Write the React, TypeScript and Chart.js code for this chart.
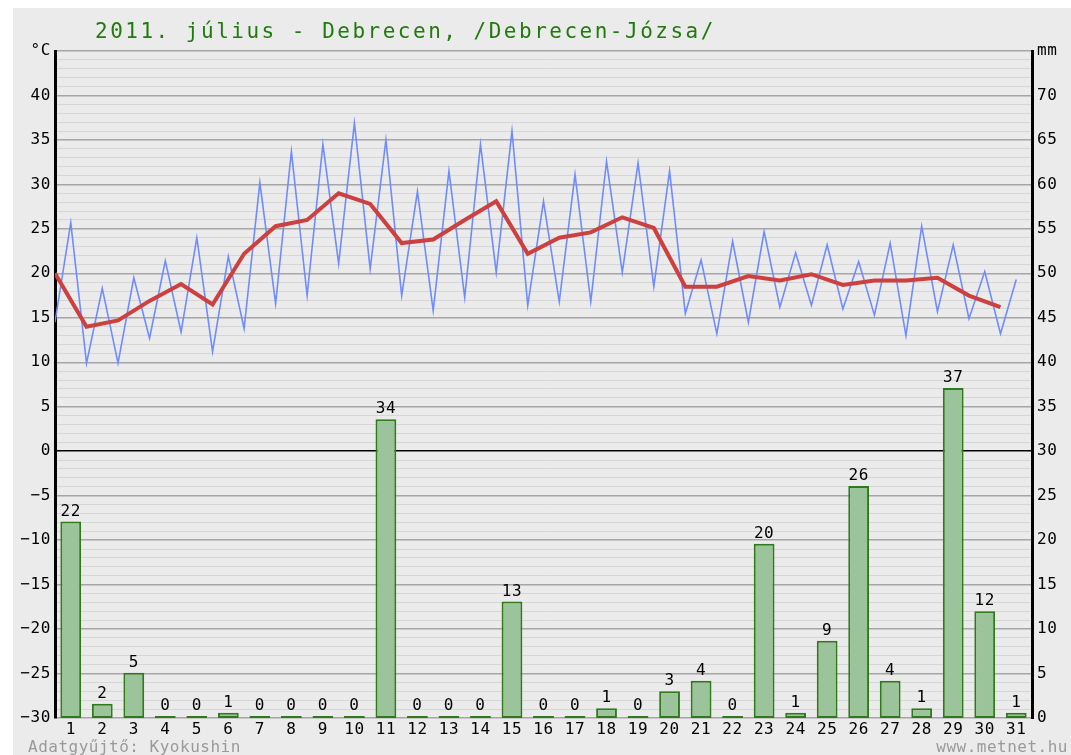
import React, { useEffect, useRef } from "react";
import { Chart, registerables } from "chart.js";

Chart.register(...registerables);

const title = "2011. július - Debrecen, /Debrecen-Józsa/";
const footerLeft = "Adatgyűjtő: Kyokushin";
const footerRight = "www.metnet.hu";

const days = Array.from({ length: 31 }, (_, i) => i + 1);
const tMin = [14.5, 9.9, 9.9, 12.7, 13.4, 11.2, 13.8, 16.6, 17.5, 21.1, 20.5, 17.5, 15.8, 17.3, 20.1, 16.4, 16.8, 16.8, 20.1, 18.5, 15.5, 13.2, 14.5, 16.2, 16.4, 16.0, 15.3, 13.0, 15.7, 14.9, 13.2];
const tMax = [25.7, 18.3, 19.5, 21.4, 24.0, 21.9, 30.2, 33.7, 34.5, 36.9, 35.0, 29.2, 31.5, 34.5, 36.0, 28.1, 31.1, 32.6, 32.4, 31.5, 21.5, 23.6, 24.7, 22.3, 23.2, 21.3, 23.4, 25.3, 23.2, 20.2, 19.3];
const tMean = [20.0, 14.0, 14.7, 16.9, 18.8, 16.5, 22.2, 25.3, 26.0, 29.0, 27.8, 23.4, 23.8, 26.0, 28.1, 22.2, 24.0, 24.6, 26.3, 25.1, 18.5, 18.5, 19.7, 19.2, 19.9, 18.7, 19.2, 19.2, 19.5, 17.5, 16.2];
const precip = [22.1, 1.6, 5.1, 0, 0, 0.6, 0, 0, 0, 0, 33.6, 0, 0, 0, 13.1, 0, 0, 1.1, 0, 3.0, 4.2, 0, 19.6, 0.6, 8.7, 26.1, 4.2, 1.1, 37.1, 12.0, 0.6];

const MONO = "'DejaVu Sans Mono', monospace";
const fmt = (v: number) => (v < 0 ? "\u2212" + String(-v) : String(v));

export default function App() {
  const ref = useRef<HTMLCanvasElement>(null);
  useEffect(() => {
    document.body.style.margin = "0";
    const canvas = ref.current!;
    const minMax: { x: number; y: number }[] = [];
    days.forEach((d, i) => {
      minMax.push({ x: i, y: tMin[i] });
      minMax.push({ x: i + 0.5, y: tMax[i] });
    });
    const means = days.map((d, i) => ({ x: i, y: tMean[i] }));
    const bars = days.map((d, i) => ({ x: i + 0.5, y: precip[i] }));

    const bgPlugin = {
      id: "bg",
      beforeDraw(chart: any) {
        const ctx = chart.ctx;
        ctx.save();
        ctx.fillStyle = "#ffffff";
        ctx.fillRect(0, 0, chart.width, chart.height);
        ctx.fillStyle = "#ebebeb";
        ctx.fillRect(13, 8, chart.width - 13, chart.height - 8);
        ctx.restore();
        (ctx as any).letterSpacing = "0.6px";
      },
      afterDraw(chart: any) {
        const ctx = chart.ctx;
        ctx.save();
        ctx.fillStyle = "#217a0e";
        ctx.font = `21px ${MONO}`;
        (ctx as any).letterSpacing = "2.5px";
        ctx.textBaseline = "alphabetic";
        ctx.textAlign = "left";
        ctx.fillText(title, 95, 38);
        ctx.fillStyle = "#9a9a9a";
        ctx.font = `16px ${MONO}`;
        (ctx as any).letterSpacing = "0.5px";
        ctx.fillText(footerLeft, 28, 752);
        ctx.textAlign = "right";
        ctx.fillText(footerRight, 1068, 752);
        ctx.restore();
      },
      afterDatasetsDraw(chart: any) {
        const ctx = chart.ctx;
        const meta = chart.getDatasetMeta(0);
        ctx.save();
        ctx.fillStyle = "#000";
        ctx.font = `16px ${MONO}`;
        ctx.textAlign = "center";
        ctx.textBaseline = "bottom";
        meta.data.forEach((el: any, i: number) => {
          ctx.fillText(String(Math.round(precip[i])), el.x, Math.min(el.y, el.base - 2) - 2);
        });
        ctx.restore();
      },
    };

    const chart = new Chart(canvas, {
      type: "bar",
      data: {
        datasets: [
          {
            type: "bar",
            data: bars as any,
            yAxisID: "y1",
            xAxisID: "x",
            backgroundColor: "#9bc49b",
            borderColor: "#2f7a1a",
            borderWidth: 2,
            borderSkipped: false,
            minBarLength: 2,
            barPercentage: 0.66,
            categoryPercentage: 1,
            order: 3,
          } as any,
          {
            type: "line",
            data: minMax as any,
            yAxisID: "y",
            xAxisID: "x",
            borderColor: "#6f8cff",
            borderWidth: 1.6,
            pointRadius: 0,
            tension: 0,
            order: 2,
          } as any,
          {
            type: "line",
            data: means as any,
            yAxisID: "y",
            xAxisID: "x",
            borderColor: "#cc4040",
            borderWidth: 4,
            pointRadius: 0,
            tension: 0,
            order: 1,
          } as any,
        ],
      },
      options: {
        responsive: false,
        animation: false,
        layout: { padding: { left: 13, top: 51, right: 0, bottom: 0 } },
        plugins: { legend: { display: false }, tooltip: { enabled: false }, title: { display: false } },
        scales: {
          x: {
            type: "linear",
            min: 0,
            max: 31,
            offset: false,
            grid: { display: false, drawTicks: false, offset: false },
            border: { display: false },
            afterBuildTicks: (axis: any) => {
              axis.ticks = days.map((d) => ({ value: d - 0.5 }));
            },
            afterFit: (s: any) => {
              s.height = 37;
            },
            ticks: {
              autoSkip: false,
              maxRotation: 0,
              padding: 2,
              color: "#000",
              font: { family: MONO, size: 16 },
              callback: (v: any) => String(Math.round(Number(v) + 0.5)),
            },
          },
          y: {
            position: "left",
            min: -30,
            max: 45,
            afterFit: (s: any) => {
              s.width = 42;
            },
            border: { display: true, color: "#000", width: 3 },
            grid: {
              drawTicks: false,
              color: (c: any) => (c.tick.value === 0 ? "#000000" : c.tick.value % 5 === 0 ? "#a6a6a6" : "#d6d6d6"),
              lineWidth: (c: any) => (c.tick.value % 5 === 0 ? 1.5 : 1),
            },
            ticks: {
              stepSize: 1,
              autoSkip: false,
              padding: 4,
              color: "#000",
              font: { family: MONO, size: 16 },
              callback: (v: any) => (v === 45 ? "°C" : v % 5 === 0 ? fmt(v) : ""),
            },
          },
          y1: {
            position: "right",
            min: 0,
            max: 75,
            afterFit: (s: any) => {
              s.width = 39;
            },
            border: { display: true, color: "#000", width: 3 },
            grid: { display: false, drawTicks: false },
            ticks: {
              stepSize: 5,
              autoSkip: false,
              padding: 5,
              color: "#000",
              font: { family: MONO, size: 16 },
              callback: (v: any) => (v === 75 ? "mm" : String(v)),
            },
          },
        },
      } as any,
      plugins: [bgPlugin],
    });
    return () => chart.destroy();
  }, []);
  return <canvas ref={ref} width={1071} height={755} style={{ display: "block" }} />;
}
